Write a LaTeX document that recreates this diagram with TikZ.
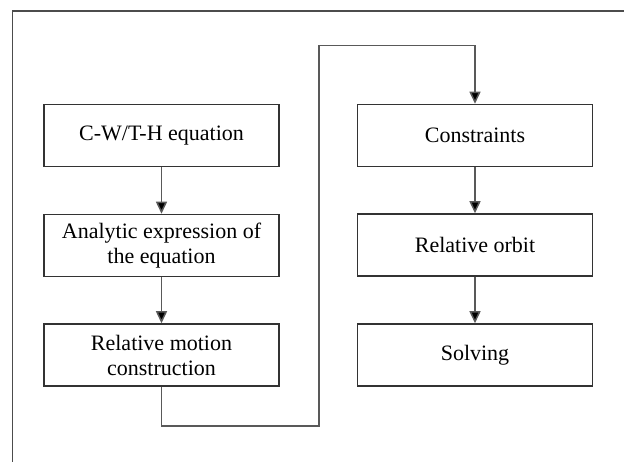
\documentclass[tikz,border=0pt]{standalone}
\usepackage{fontspec}
\setmainfont{Liberation Serif}
\usetikzlibrary{arrows.meta}
\begin{document}
\begin{tikzpicture}[x=1pt,y=-1pt,
  box/.style={draw=black!80, line width=1.5pt, minimum width=235pt, minimum height=62pt,
    inner sep=0pt, align=center, font=\fontsize{22}{25}\selectfont},
  arr/.style={draw=black!65, line width=1.5pt, -{Triangle[length=12pt,width=11pt,fill=black]}},
  frame/.style={draw=black!70, line width=1.6pt}]
\useasboundingbox (0,0) rectangle (624,462);
\coordinate (f1) at (12.5,462);
\coordinate (f2) at (624,11);
\draw[frame] (f1) |- (f2);
\node[box] (cw) at (161.5,135.5) {C-W/T-H equation};
\node[box] (an) at (161.5,245.5) {Analytic expression of\\the equation};
\node[box] (rm) at (161.5,355) {Relative motion\\construction};
\node[box] (co) at (475,135.5) {Constraints};
\node[box] (ro) at (475,245) {Relative orbit};
\node[box] (so) at (475,355) {Solving};
\draw[arr] (cw) -- (an);
\draw[arr] (an) -- (rm);
\draw[arr] (co) -- (ro);
\draw[arr] (ro) -- (so);
\coordinate (c1) at (161.5,426);
\coordinate (c3) at (319,45.5);
\draw[arr] (rm.south) -- (c1) -| (c3) -| (co.north);
\end{tikzpicture}
\end{document}
